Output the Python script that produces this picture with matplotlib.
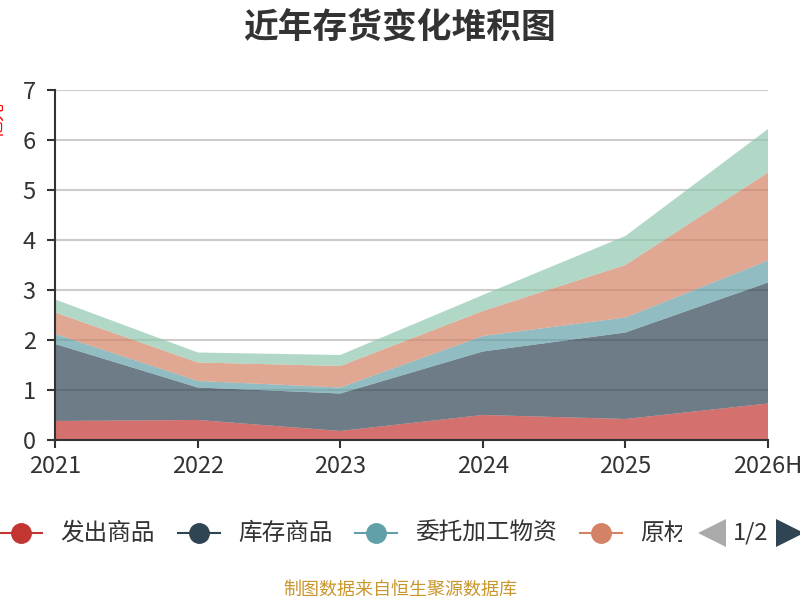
import matplotlib.pyplot as plt
from matplotlib.lines import Line2D
from matplotlib.transforms import Bbox

plt.rcParams['font.family'] = ['Noto Sans CJK SC', 'DejaVu Sans']

years = ['2021', '2022', '2023', '2024', '2025', '2026H']
names = ['发出商品', '库存商品', '委托加工物资', '原材料', '在产品']
fachu = [0.38, 0.40, 0.18, 0.50, 0.42, 0.73]
kucun = [1.54, 0.65, 0.75, 1.27, 1.73, 2.42]
weituo = [0.20, 0.13, 0.12, 0.31, 0.30, 0.44]
yuancai = [0.43, 0.37, 0.43, 0.50, 1.05, 1.76]
zaichan = [0.26, 0.20, 0.22, 0.32, 0.58, 0.87]
colors = ['#c23531', '#2f4554', '#61a0a8', '#d48265', '#91c7ae']

fig = plt.figure(figsize=(8, 6), dpi=100)
ax = fig.add_axes([0.069, 0.2667, 0.891, 0.5833])

x = list(range(len(years)))
ax.stackplot(x, fachu, kucun, weituo, yuancai, zaichan, colors=colors, alpha=0.7, linewidth=0)

ax.set_xlim(0, len(years) - 1)
ax.set_ylim(0, 7)
ax.set_yticks(range(0, 8))
ax.set_xticks(x)
ax.set_xticklabels(years)
ax.yaxis.grid(True, color='#cccccc', linewidth=1.5)
ax.set_axisbelow(True)
for s in ['top', 'right']:
    ax.spines[s].set_visible(False)
for s in ['left', 'bottom']:
    ax.spines[s].set_color('#333333')
    ax.spines[s].set_linewidth(1.5)
ax.tick_params(colors='#333333', labelsize=17, length=6, width=1.5)
ax.tick_params(axis='y', pad=8)
ax.tick_params(axis='x', pad=5)

fig.text(0.5, 0.955, '近年存货变化堆积图', ha='center', va='center', fontsize=25,
         fontweight='bold', color='#333333')
fig.text(-0.004, 0.8, '亿元', rotation=90, ha='center', va='center', fontsize=13, color='red')

# legend (page 1 of 2)
ly = 1 - 533 / 600
starts = [0, 178, 355, 580]
for i in range(4):
    x0 = starts[i] / 800
    fig.add_artist(Line2D([x0, x0 + 42 / 800], [ly, ly], color=colors[i], linewidth=1.5))
    fig.add_artist(Line2D([x0 + 21 / 800], [ly], color=colors[i], marker='o', markersize=14))
    t = fig.text(x0 + 60 / 800, ly, names[i], ha='left', va='center', fontsize=17, color='#333333')
    if i == 3:
        t.set_clip_on(True)
        t.set_clip_box(Bbox.from_extents(0, 0, 682, 600))
fig.add_artist(Line2D([712 / 800], [ly], color='#aaaaaa', marker='<', markersize=20,
                      markeredgewidth=0))
fig.text(751 / 800, ly, '1/2', ha='center', va='center', fontsize=17, color='#333333')
fig.add_artist(Line2D([790 / 800], [ly], color='#2f4554', marker='>', markersize=20,
                      markeredgewidth=0))

fig.text(0.5, 1 - 590 / 600, '制图数据来自恒生聚源数据库', ha='center', va='center', fontsize=13,
         color='#c9962b')

fig.savefig('out.png', dpi=100)
